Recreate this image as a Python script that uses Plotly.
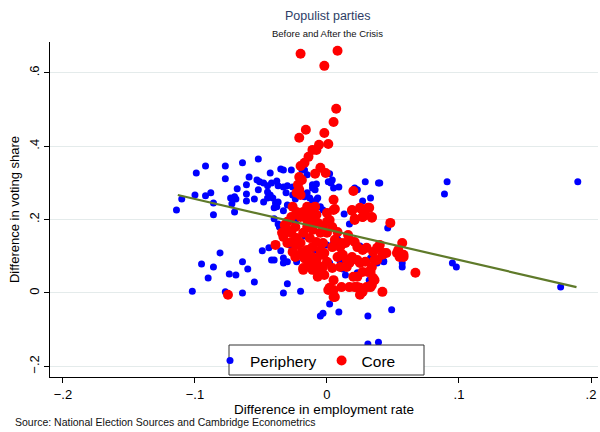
import plotly.graph_objects as go

# Periphery (blue) points: employment-rate difference, voting-share difference
periphery_x = [
    -0.114, -0.110, -0.100, -0.099, -0.092, -0.092, -0.088, -0.086, -0.086, -0.077,
    -0.077, -0.073, -0.070, -0.069, -0.072, -0.070, -0.068, -0.064, -0.061, -0.061,
    -0.061, -0.059, -0.055, -0.053, -0.052, -0.052, -0.051, -0.048, -0.048, -0.045,
    -0.045, -0.045, -0.043, -0.043, -0.042, -0.041, -0.040, -0.039, -0.038, -0.038,
    -0.037, -0.037, -0.035, -0.033, -0.033, -0.033, -0.031, -0.030, -0.030, -0.027,
    -0.026, -0.026, -0.024, -0.040, -0.036, -0.037, -0.081, -0.095, -0.086, -0.090,
    -0.074, -0.069, -0.064, -0.060, -0.055, -0.102, -0.077, -0.064, -0.033, -0.030,
    -0.049, -0.044, -0.035, -0.042, -0.040, -0.033, -0.030, -0.033, -0.020, 0.002,
    -0.003, -0.005, 0.009, 0.031, 0.049, 0.031, 0.039, 0.013, 0.017, 0.046,
    0.057, 0.057, 0.038, 0.043, 0.012, 0.014, 0.002, 0.005, 0.008, 0.023,
    0.033, 0.032, 0.010, -0.017, -0.015, 0.002, 0.001, 0.003, -0.011, -0.008,
    -0.011, -0.009, 0.005, 0.009, 0.029, 0.039, 0.033, 0.027, 0.023, -0.015,
    -0.013, -0.008, -0.011, -0.005, -0.003, 0.000, -0.020, -0.017, -0.007, 0.040,
    0.091, 0.089, 0.190, 0.177, 0.095, 0.098, 0.043, -0.019, 0.004, 0.021,
    -0.024, -0.017, -0.009, 0.025, 0.014, 0.000, -0.028, -0.023,
]
periphery_y = [
    0.226, 0.256, 0.267, 0.327, 0.346, 0.265, 0.273, 0.245, 0.213, 0.346,
    0.311, 0.259, 0.262, 0.256, 0.243, 0.221, 0.284, 0.355, 0.295, 0.270,
    0.251, 0.316, 0.256, 0.308, 0.365, 0.281, 0.303, 0.300, 0.248, 0.292,
    0.275, 0.259, 0.327, 0.267, 0.300, 0.259, 0.232, 0.245, 0.305, 0.235,
    0.292, 0.248, 0.338, 0.335, 0.289, 0.224, 0.273, 0.292, 0.240, 0.335,
    0.289, 0.267, 0.256, 0.202, 0.180, 0.188, 0.109, 0.079, 0.071, 0.041,
    0.052, 0.049, 0.085, 0.065, 0.030, 0.005, 0.003, 0.000, 0.000, 0.025,
    0.115, 0.123, 0.115, 0.090, 0.090, 0.095, 0.085, 0.082, 0.005, -0.030,
    -0.055, -0.063, -0.052, -0.063, -0.046, -0.139, -0.134, 0.215, 0.188, 0.177,
    0.082, 0.071, 0.082, 0.087, 0.065, 0.049, 0.082, 0.136, 0.147, 0.055,
    0.095, 0.035, 0.085, 0.335, 0.322, 0.325, 0.303, 0.300, 0.295, 0.297,
    0.286, 0.281, 0.286, 0.289, 0.303, 0.300, 0.259, 0.251, 0.281, 0.273,
    0.259, 0.254, 0.245, 0.235, 0.226, 0.221, 0.273, 0.262, 0.259, 0.300,
    0.303, 0.270, 0.303, 0.016, 0.082, 0.071, 0.085, 0.335, 0.308, 0.286,
    0.194, 0.155, 0.117, 0.128, 0.095, 0.131, 0.131, 0.085,
]

# Core (red) points
core_x = [
    -0.020, 0.008, -0.002, 0.007, 0.005, -0.016, -0.021, -0.002, 0.001, -0.006,
    -0.008, -0.011, -0.014, -0.017, -0.020, -0.005, -0.001, -0.009, -0.021, -0.022,
    -0.021, 0.020, -0.023, -0.020, -0.019, -0.026, -0.023, -0.027, -0.030, -0.032,
    -0.030, -0.034, -0.033, -0.039, -0.030, -0.027, -0.023, -0.020, -0.026, -0.024,
    -0.018, -0.075,
    -0.015, -0.011, -0.009, -0.013, -0.008, -0.015, -0.011, -0.007, -0.003, 0.000,
    0.002, 0.005, 0.006, -0.015, -0.011, -0.005, 0.000, -0.018, -0.013, -0.008,
    -0.003, -0.011, -0.005, -0.015, -0.011, -0.008, -0.003, 0.000, -0.009, -0.005,
    -0.002, 0.004, 0.005, 0.002, 0.006, 0.001, 0.010, 0.014, 0.016, 0.017,
    0.021, 0.023, 0.027, 0.030, 0.035, 0.038, 0.040, 0.043, 0.048, 0.057,
    0.054, 0.058, 0.067, 0.008, 0.011, 0.015, 0.019, 0.023, 0.025, 0.029,
    0.034, 0.036, 0.015, 0.020, 0.023, 0.027, 0.033, 0.036, 0.042, 0.017,
    0.021, 0.025, 0.027, 0.030, 0.034, 0.025, 0.019, 0.021, 0.027, 0.029,
    0.031, 0.034, 0.025,
    -0.018, -0.020, -0.024, -0.027, -0.023, -0.019, -0.017, -0.014, -0.018, -0.003,
    -0.007, 0.004, 0.008, 0.006, 0.004, 0.010, 0.005, 0.011, 0.000, 0.005,
    0.019, 0.026, 0.032, 0.027, 0.034, 0.021, 0.011, -0.011, -0.007, 0.012,
    0.017, 0.038, 0.042, 0.045, 0.053, 0.055, 0.058, 0.005, 0.023, 0.033,
    0.035, 0.031, -0.020, -0.017, -0.013, -0.005, -0.002,
]
core_y = [
    0.652, 0.660, 0.619, 0.502, 0.466, 0.445, 0.423, 0.436, 0.406, 0.404,
    0.390, 0.390, 0.371, 0.355, 0.346, 0.341, 0.327, 0.325, 0.316, 0.295,
    0.281, 0.278, 0.273, 0.267, 0.308, 0.235, 0.221, 0.207, 0.194, 0.185,
    0.172, 0.164, 0.153, 0.131, 0.136, 0.139, 0.150, 0.136, 0.112, 0.098,
    0.068, -0.005,
    0.235, 0.232, 0.235, 0.218, 0.213, 0.199, 0.194, 0.191, 0.180, 0.194,
    0.199, 0.226, 0.229, 0.180, 0.172, 0.164, 0.164, 0.164, 0.150, 0.139,
    0.136, 0.125, 0.117, 0.117, 0.098, 0.090, 0.104, 0.085, 0.063, 0.068,
    0.049, 0.068, 0.008, 0.014, -0.011, 0.008, 0.125, 0.136, 0.158, 0.145,
    0.139, 0.125, 0.117, 0.123, 0.112, 0.123, 0.131, 0.109, 0.191, 0.136,
    0.117, 0.098, 0.055, 0.098, 0.104, 0.090, 0.098, 0.090, 0.082, 0.085,
    0.071, 0.090, 0.071, 0.044, 0.044, 0.057, 0.057, 0.035, 0.003, 0.016,
    0.016, 0.014, 0.003, 0.016, 0.022, -0.005, 0.226, 0.199, 0.207, 0.213,
    0.232, 0.207, 0.232,
    0.221, 0.207, 0.180, 0.164, 0.131, 0.112, 0.095, 0.082, 0.063, 0.071,
    0.044, 0.180, 0.166, 0.145, 0.125, 0.071, 0.035, 0.016, 0.218, 0.254,
    0.224, 0.229, 0.232, 0.207, 0.205, 0.202, 0.136, 0.063, 0.076, 0.104,
    0.082, 0.090, 0.104, 0.109, 0.109, 0.098, 0.104, -0.011, 0.016, 0.016,
    0.041, 0.057, 0.104, 0.095, 0.098, 0.104, 0.109,
]

# Linear fit line endpoints
fit_x = [-0.113, 0.189]
fit_y = [0.267, 0.016]

x_ticks = [-0.2, -0.1, 0, 0.1, 0.2]
x_labels = ["\u2212.2", "\u2212.1", "0", ".1", ".2"]
y_ticks = [-0.2, 0, 0.2, 0.4, 0.6]
y_labels = ["\u2212.2", "0", ".2", ".4", ".6"]

FONT = "Liberation Sans, Arial, sans-serif"

# plot-area geometry in pixels (for paper-coordinate placement of text/boxes)
L, R, T, B = 50, 598, 42, 377
PW, PH = R - L, B - T


def px(xp):
    return (xp - L) / PW


def py(yp):
    return (B - yp) / PH


fig = go.Figure()
fig.add_trace(go.Scatter(
    x=periphery_x, y=periphery_y, mode="markers", name="Periphery",
    marker=dict(color="#0000ff", size=7, line=dict(width=0)),
))
fig.add_trace(go.Scatter(
    x=core_x, y=core_y, mode="markers", name="Core",
    marker=dict(color="#ff0000", size=10, line=dict(width=0)),
))
fig.add_trace(go.Scatter(
    x=fit_x, y=fit_y, mode="lines", showlegend=False,
    line=dict(color="#5f7a2a", width=2.2),
))

fig.update_layout(
    width=600, height=432,
    margin=dict(l=L, r=600 - R, t=T, b=432 - B),
    paper_bgcolor="white", plot_bgcolor="white",
    font=dict(family=FONT, color="#000000"),
    showlegend=True,
    legend=dict(
        orientation="h", x=px(210), y=py(344), xanchor="left", yanchor="top",
        bgcolor="rgba(0,0,0,0)", borderwidth=0,
        font=dict(size=15.5, family=FONT), itemwidth=30,
    ),
    shapes=[
        dict(type="rect", xref="paper", yref="paper",
             x0=px(229), x1=px(424), y0=py(375), y1=py(345),
             fillcolor="white", line=dict(color="#333333", width=1), layer="above"),
    ],
    xaxis=dict(
        range=[-0.2098, 0.2053], tickmode="array", tickvals=x_ticks, ticktext=x_labels,
        showgrid=False, zeroline=False, showline=True, linecolor="#000000", linewidth=1,
        ticks="outside", ticklen=5, tickcolor="#000000", tickfont=dict(size=13),
        title=dict(text="Difference in employment rate", font=dict(size=13.5), standoff=2),
    ),
    yaxis=dict(
        range=[-0.229, 0.684], tickmode="array", tickvals=y_ticks, ticktext=y_labels,
        showgrid=True, gridcolor="#e4ebeb", gridwidth=1, zeroline=False,
        showline=True, linecolor="#000000", linewidth=1,
        ticks="outside", ticklen=5, tickcolor="#000000", tickfont=dict(size=13),
        tickangle=-90,
        title=dict(text="Difference in voting share", font=dict(size=13), standoff=4),
    ),
    annotations=[
        dict(text="Populist parties", xref="paper", yref="paper",
             x=px(327), y=py(16), xanchor="center", yanchor="middle",
             showarrow=False, font=dict(size=12.5, color="#2e3d66", family=FONT)),
        dict(text="Before and After the Crisis", xref="paper", yref="paper",
             x=px(327), y=py(33), xanchor="center", yanchor="middle",
             showarrow=False, font=dict(size=9.5, color="#111111", family=FONT)),
        dict(text="Source: National Election Sources and Cambridge Econometrics",
             xref="paper", yref="paper", x=px(13), y=py(422),
             xanchor="left", yanchor="middle", showarrow=False,
             font=dict(size=10.5, color="#111111", family=FONT)),
    ],
)

fig.write_html("out.html")
